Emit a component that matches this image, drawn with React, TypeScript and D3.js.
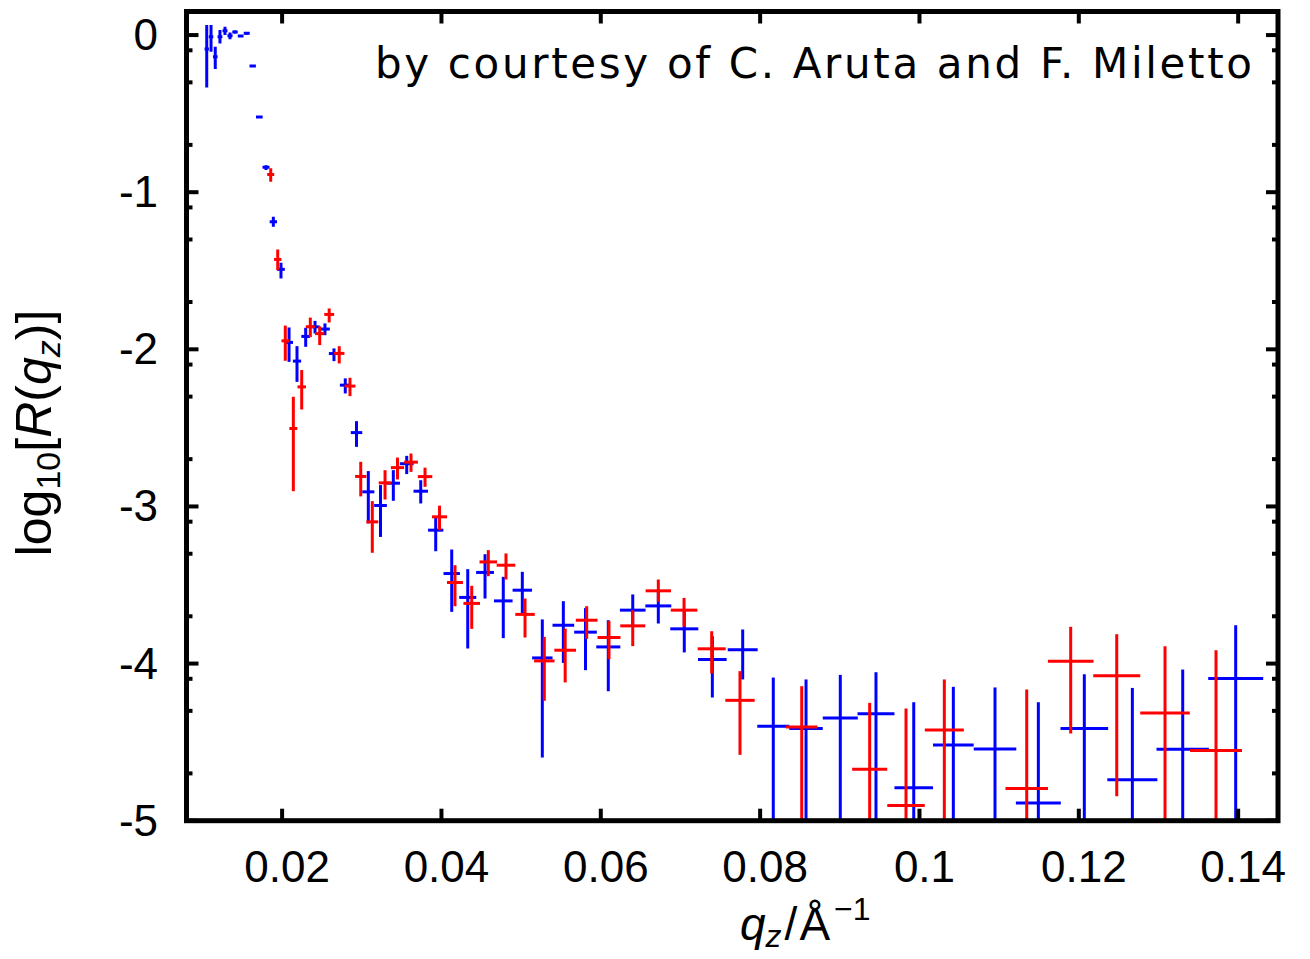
import React from 'react';
import * as d3 from 'd3';

// ---- data (q in 1/Å, log10 R) ----
const blueQ = [0.01054, 0.01108, 0.01161, 0.01220, 0.01283, 0.01346, 0.01409, 0.01480, 0.01556, 0.01631, 0.01714, 0.01798, 0.01890, 0.01986, 0.02087, 0.02187, 0.02296, 0.02413, 0.02538, 0.02651, 0.02793, 0.02934, 0.03082, 0.03235, 0.03396, 0.03564, 0.03740, 0.03928, 0.04129, 0.04330, 0.04547, 0.04776, 0.05015, 0.05266, 0.05530, 0.05808, 0.06094, 0.06401, 0.06722, 0.07048, 0.07400, 0.07781, 0.08165, 0.08576, 0.09006, 0.09454, 0.09928, 0.10425, 0.10948, 0.11492, 0.12069, 0.12672, 0.13304, 0.13969];
const blueDq = [0.00027, 0.00028, 0.00029, 0.0003, 0.00031, 0.00032, 0.00034, 0.00036, 0.00038, 0.0004, 0.00042, 0.00044, 0.00046, 0.00048, 0.0005, 0.00052, 0.00055, 0.00058, 0.00061, 0.00064, 0.00068, 0.00072, 0.00076, 0.0008, 0.00083, 0.00087, 0.00091, 0.00096, 0.00103, 0.00107, 0.00112, 0.00117, 0.00122, 0.00128, 0.00136, 0.00142, 0.00151, 0.00161, 0.00163, 0.00176, 0.0018, 0.00188, 0.00201, 0.0021, 0.0022, 0.00232, 0.00242, 0.00255, 0.00267, 0.00282, 0.00299, 0.00314, 0.00329, 0.00345];
const blueLogR = [-0.089, -0.011, -0.138, -0.011, 0.027, -0.005, 0.019, -0.006, 0.011, -0.197, -0.522, -0.842, -1.188, -1.491, -1.956, -2.075, -1.918, -1.857, -1.871, -2.027, -2.228, -2.530, -2.907, -2.994, -2.852, -2.728, -2.903, -3.151, -3.427, -3.579, -3.420, -3.601, -3.533, -3.964, -3.756, -3.800, -3.894, -3.660, -3.633, -3.779, -3.974, -3.912, -4.399, -4.413, -4.346, -4.320, -4.791, -4.519, -4.543, -4.887, -4.413, -4.740, -4.545, -4.095];
const blueHigh = [0.064, 0.064, -0.075, 0.032, 0.053, 0.017, 0.029, 0.0, 0.02, -0.191, -0.516, -0.828, -1.157, -1.449, -1.861, -1.980, -1.863, -1.819, -1.835, -1.994, -2.185, -2.457, -2.775, -2.864, -2.769, -2.678, -2.833, -3.066, -3.274, -3.399, -3.304, -3.448, -3.416, -3.719, -3.603, -3.647, -3.724, -3.560, -3.533, -3.660, -3.826, -3.783, -4.089, -4.101, -4.072, -4.055, -4.246, -4.148, -4.152, -4.246, -4.068, -4.155, -4.038, -3.756];
const blueLow = [-0.333, -0.106, -0.216, -0.053, 0.0, -0.027, 0.010, -0.012, 0.002, -0.203, -0.528, -0.859, -1.220, -1.549, -2.080, -2.207, -1.984, -1.899, -1.910, -2.075, -2.281, -2.621, -3.108, -3.194, -2.964, -2.794, -2.981, -3.285, -3.671, -3.904, -3.586, -3.838, -3.692, -4.598, -3.996, -4.042, -4.176, -3.766, -3.745, -3.929, -4.216, -4.101, -5.6, -5.6, -5.6, -5.6, -5.6, -5.6, -5.6, -5.6, -5.6, -5.6, -5.6, -5.6];

const redQ = [0.01857, 0.01945, 0.02040, 0.02141, 0.02246, 0.02354, 0.02472, 0.02591, 0.02717, 0.02852, 0.02987, 0.03132, 0.03292, 0.03448, 0.03618, 0.03794, 0.03976, 0.04170, 0.04380, 0.04588, 0.04810, 0.05049, 0.05291, 0.05553, 0.05823, 0.06103, 0.06401, 0.06722, 0.07045, 0.07392, 0.07747, 0.08522, 0.09375, 0.09831, 0.10312, 0.11346, 0.11898, 0.12476, 0.13082, 0.13722];
const redDq = [0.00044, 0.00046, 0.00048, 0.0005, 0.00053, 0.00056, 0.00059, 0.00062, 0.00065, 0.00068, 0.00071, 0.00075, 0.00079, 0.00083, 0.00087, 0.00091, 0.00095, 0.001, 0.00104, 0.0011, 0.00117, 0.00122, 0.00128, 0.00136, 0.00136, 0.00144, 0.00157, 0.00159, 0.00167, 0.00176, 0.00184, 0.00198, 0.0022, 0.00235, 0.00245, 0.00267, 0.00286, 0.00295, 0.00311, 0.00326];
const redLogR = [-0.888, -1.428, -1.946, -2.504, -2.239, -1.856, -1.900, -1.778, -2.026, -2.234, -2.809, -3.098, -2.850, -2.753, -2.718, -2.810, -3.066, -3.484, -3.617, -3.353, -3.374, -3.687, -3.983, -3.915, -3.724, -3.834, -3.760, -3.537, -3.660, -3.906, -4.234, -4.403, -4.672, -4.903, -4.422, -4.795, -3.985, -4.078, -4.314, -4.553];
const redHigh = [-0.847, -1.364, -1.849, -2.302, -2.132, -1.798, -1.854, -1.740, -1.980, -2.181, -2.716, -2.966, -2.769, -2.689, -2.663, -2.753, -2.995, -3.374, -3.505, -3.278, -3.299, -3.586, -3.830, -3.777, -3.635, -3.730, -3.660, -3.465, -3.582, -3.794, -4.048, -4.144, -4.250, -4.286, -4.101, -4.165, -3.766, -3.813, -3.889, -3.915];
const redLow = [-0.934, -1.496, -2.073, -2.903, -2.383, -1.922, -1.973, -1.829, -2.090, -2.298, -2.936, -3.295, -2.956, -2.828, -2.780, -2.875, -3.151, -3.635, -3.779, -3.444, -3.465, -3.834, -4.237, -4.120, -3.843, -3.972, -3.889, -3.607, -3.766, -4.063, -4.581, -5.6, -5.6, -5.6, -5.6, -5.6, -4.445, -4.844, -5.6, -5.6];

const xTicks = [0.02, 0.04, 0.06, 0.08, 0.1, 0.12, 0.14];
const xTickLabels = ['0.02', '0.04', '0.06', '0.08', '0.1', '0.12', '0.14'];
const yTicks = [0, -1, -2, -3, -4, -5];
const yTickLabels = ['0', '-1', '-2', '-3', '-4', '-5'];
const yMinorFactors = [0.8, 0.5, 0.2];

const annotation = 'by courtesy of C. Aruta and F. Miletto';

const W = 1310;
const H = 959;
const L = 186.5, R = 1278, T = 11.5, B = 820.7;

export default function App() {
  const x = d3.scaleLinear().domain([0.008, 0.145]).range([L, R]);
  const y = d3.scaleLinear().domain([-5, 0.15]).range([B, T]);

  const minor: number[] = [];
  yTicks.slice(0, 5).forEach((k) => yMinorFactors.forEach((m) => minor.push(k + Math.log10(m))));

  const series = [
    { q: blueQ, dq: blueDq, v: blueLogR, hi: blueHigh, lo: blueLow, color: '#0000ff' },
    { q: redQ, dq: redDq, v: redLogR, hi: redHigh, lo: redLow, color: '#ff0000' },
  ];

  const font = "'Liberation Sans', Arial, Helvetica, sans-serif";

  return (
    <svg width={W} height={H} style={{ position: 'absolute', left: 0, top: 0, background: '#fff' }}>
      <defs>
        <clipPath id="plotclip">
          <rect x={L} y={T} width={R - L} height={B - T} />
        </clipPath>
      </defs>
      <rect x={0} y={0} width={W} height={H} fill="#fff" />
      <g clipPath="url(#plotclip)">
        {series.map((s, si) => (
          <g key={si} stroke={s.color} strokeWidth={3} fill="none">
            {s.q.map((q, i) => (
              <g key={i}>
                <line x1={x(q)} x2={x(q)} y1={y(s.hi[i])} y2={y(s.lo[i])} />
                <line x1={x(q - s.dq[i])} x2={x(q + s.dq[i])} y1={y(s.v[i])} y2={y(s.v[i])} />
              </g>
            ))}
          </g>
        ))}
      </g>
      {/* ticks */}
      <g stroke="#000" strokeWidth={4}>
        {xTicks.map((t, i) => (
          <g key={'xt' + i}>
            <line x1={x(t)} x2={x(t)} y1={B} y2={B - 12} />
            <line x1={x(t)} x2={x(t)} y1={T} y2={T + 12} />
          </g>
        ))}
        {yTicks.map((t, i) => (
          <g key={'yt' + i}>
            <line x1={L} x2={L + 12} y1={y(t)} y2={y(t)} />
            <line x1={R} x2={R - 12} y1={y(t)} y2={y(t)} />
          </g>
        ))}
        {minor.map((t, i) => (
          <g key={'ym' + i}>
            <line x1={L} x2={L + 6} y1={y(t)} y2={y(t)} />
            <line x1={R} x2={R - 6} y1={y(t)} y2={y(t)} />
          </g>
        ))}
      </g>
      <rect x={L} y={T} width={R - L} height={B - T} fill="none" stroke="#000" strokeWidth={5} />
      {/* tick labels */}
      <g fontFamily={font} fontSize={44} fill="#000">
        {xTicks.map((t, i) => (
          <text key={'xl' + i} x={x(t) + 5} y={882} textAnchor="middle">{xTickLabels[i]}</text>
        ))}
        {yTicks.map((t, i) => (
          <text key={'yl' + i} x={158} y={y(t) + 15} textAnchor="end">{yTickLabels[i]}</text>
        ))}
      </g>
      {/* annotation */}
      <text x={375} y={78} fontFamily="'DejaVu Sans', sans-serif" fontSize={42} textLength={877} lengthAdjust="spacing" fill="#000">{annotation}</text>
      {/* x label */}
      <text x={740} y={940} fontFamily={font} fontSize={46} fill="#000">
        <tspan fontStyle="italic">q</tspan>
        <tspan fontStyle="italic" fontSize={32} dy={7}>z</tspan>
        <tspan dy={-7} dx={3}>/</tspan>
        <tspan dx={2}>Å</tspan>
        <tspan fontSize={32} dy={-20} dx={4}>−1</tspan>
      </text>
      {/* y label */}
      <text transform="translate(51,433) rotate(-90)" textAnchor="middle" fontFamily={font} fontSize={50} fill="#000">
        <tspan>log</tspan>
        <tspan fontSize={34} dy={9}>10</tspan>
        <tspan dy={-9}>[</tspan>
        <tspan fontStyle="italic">R</tspan>
        <tspan>(</tspan>
        <tspan fontStyle="italic">q</tspan>
        <tspan fontStyle="italic" fontSize={34} dy={9}>z</tspan>
        <tspan dy={-9}>)]</tspan>
      </text>
    </svg>
  );
}
